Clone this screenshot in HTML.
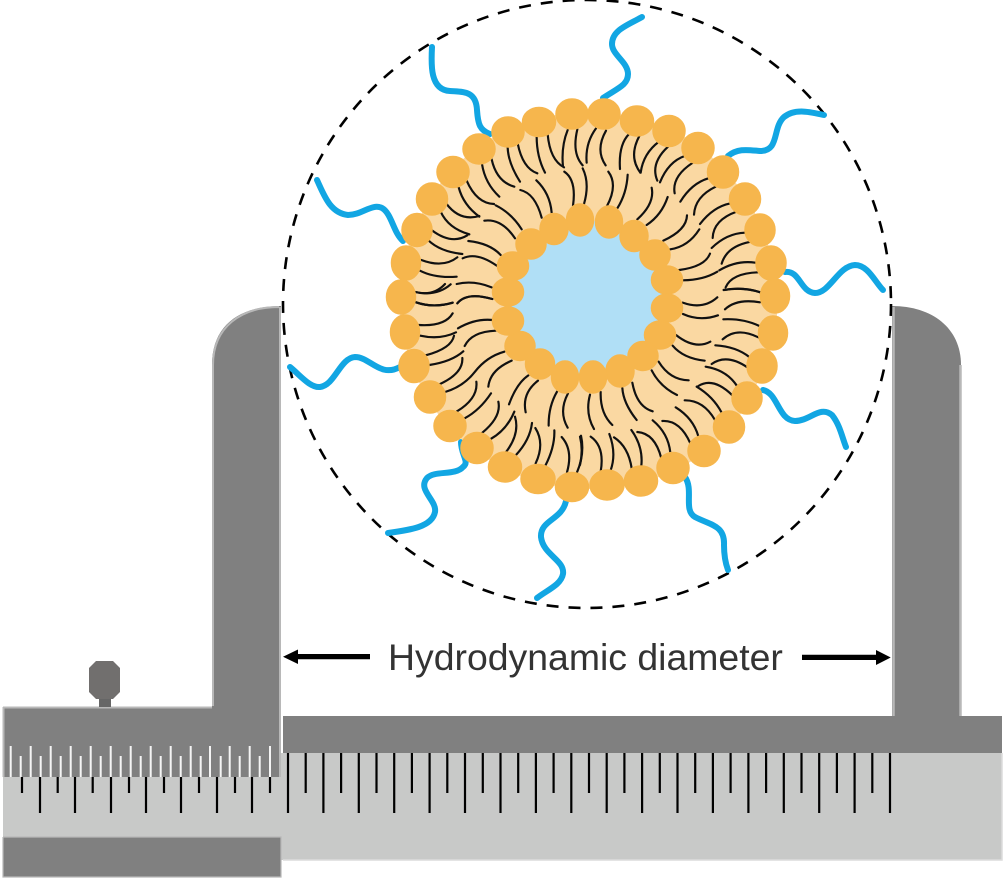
<!DOCTYPE html>
<html><head><meta charset="utf-8"><style>html,body{margin:0;padding:0;background:#fff}svg{display:block}</style></head><body>
<svg xmlns="http://www.w3.org/2000/svg" width="1005" height="880" viewBox="0 0 1005 880">
<rect x="3" y="753" width="999" height="107" fill="#c8c9c8"/>
<path d="M1002 753V860H283" fill="none" stroke="#dcdcdc" stroke-width="1.5"/>
<path d="M283 716H1002V753H283Z" fill="#808080"/>
<path d="M892 716V306C932 306 961 328 961 365V716Z" fill="#808080"/>
<path d="M893.500 716V307M960.500 716V365" stroke="#b8b8b8" stroke-width="2.500" fill="none"/>
<path d="M3 707H212V365C212 325 240 306 281 306V777H3Z" fill="#808080"/>
<path d="M213 706V365C213 327 241 307 279 307M280 307V777M3.500 707V777M3 707.500H212" stroke="#b8b8b8" stroke-width="2" fill="none"/>
<rect x="3" y="837" width="278" height="40" fill="#808080"/>
<path d="M3 837V877H281V837H3" stroke="#b8b8b8" stroke-width="1.200" fill="none"/>
<path d="M96 661H113L120 668V692L113 699H96L89 692V668Z" fill="#716f6e"/>
<rect x="99" y="699" width="12" height="8" fill="#666"/>
<path stroke="#f4f4f4" stroke-width="2" d="M10.700 746V777M30.700 746V777M50.700 746V777M70.700 746V777M90.700 746V777M110.700 746V777M130.700 746V777M150.700 746V777M170.700 746V777M190.700 746V777M210 746V777M229.700 746V777M249.700 746V777M270 746V777M20.700 756V777M40.700 756V777M60.700 756V777M80.700 756V777M100.700 756V777M120.700 756V777M140.700 756V777M160.700 756V777M180.700 756V777M200.700 756V777M220.700 756V777M239.700 756V777M259.700 756V777"/>
<path stroke="#000" stroke-width="2.200" d="M22 777V793M57.700 777V793M92.700 777V793M129 777V793M164 777V793M199 777V793M235 777V793M270 777V793M40 777V813M75 777V813M111 777V813M146 777V813M181 777V813M217 777V813M252 777V813M288 753V813M323.400 753V813M358.800 753V813M394.200 753V813M429.600 753V813M465 753V813M500.500 753V813M535.900 753V813M571.300 753V813M606.700 753V813M642.100 753V813M677.500 753V813M712.900 753V813M748.400 753V813M783.800 753V813M819.200 753V813M854.600 753V813M890 753V813M305.700 753V793M341.100 753V793M376.500 753V793M411.900 753V793M447.300 753V793M482.800 753V793M518.200 753V793M553.600 753V793M589 753V793M624.400 753V793M659.800 753V793M695.200 753V793M730.600 753V793M766.100 753V793M801.500 753V793M836.900 753V793M872.300 753V793"/>
<circle cx="587" cy="304" r="304" fill="none" stroke="#000" stroke-width="2.600" stroke-dasharray="12 10"/>
<path fill="none" stroke="#12a6e3" stroke-width="6" stroke-linecap="round" d="M603 98C618 88 628 85 628 74C628 62 612 55 612 44C612 30 628 25 642 17
M432 47C431 65 430 90 450 91C462 92 476 90 477 110C478 125 480 130 490 134
M728 156C738 148 748 150 760 151C780 151 772 128 784 117C795 108 810 112 824 115
M785 272C800 270 800 292 815 293C830 293 838 266 855 265C868 265 875 282 883 290
M317 180C324 195 330 213 348 215C362 215 372 203 382 208C392 214 393 232 403 241
M290 367C300 375 310 388 320 387C335 385 340 358 355 357C370 357 380 378 400 367
M763 390C778 393 778 420 795 421C810 421 820 405 832 415C840 425 842 437 846 447
M685 477C694 490 683 510 695 517C710 525 725 525 724 545C724 555 725 562 728 570
M566 501C562 520 540 520 541 537C543 555 565 560 563 574C561 585 547 590 537 598
M461 442C461 455 470 462 463 467C455 476 435 470 427 478C417 490 437 500 435 512C432 527 410 530 388 533"/>
<polygon fill="#fad8a2" stroke="#fad8a2" stroke-width="6" stroke-linejoin="round" points="572,114 604,114 637,121 669,131 698,148 723,172 745,199 760,230 771,263 775,296 773,333 762,366 747,398 729,427 704,451 673,468 641,481 607,485 572,487 538,479 505,467 477,448 450,426 430,397 414,366 405,332 401,297 406,263 417,230 432,199 453,172 479,149 508,132 539,122"/>
<polygon fill="#b0dff6" points="580,220 609,222 634,236 655,255 667,280 667,307 660,335 643,356 620,371 593,377 565,377 540,364 520,346 508,321 508,292 513,266 531,244 554,229"/>
<g fill="none" stroke="#111" stroke-width="6.500" stroke-linecap="round">
<g transform="translate(380,90) scale(.33333)"><path d="M383 173Q385 220 420 275M413 160Q428 235 472 250M470 140Q470 200 495 248M503 133Q510 210 552 232M563 120Q543 170 549 230M592 118Q575 190 608 226M335 208Q350 275 403 290M306 222Q315 280 358 320M260 272Q290 340 342 342M236 292Q250 345 298 380M199 341Q240 395 298 378M182 365Q205 415 268 433M156 421Q215 465 262 436M144 450Q180 485 247 492M124 510Q190 535 232 502M120 542Q165 565 230 560M106 606Q170 620 212 583M108 637Q160 655 218 638M230 582Q280 570 335 592M232 640Q260 605 337 627M248 505Q290 485 350 527M265 453Q330 460 362 495M313 392Q365 385 405 445M347 346Q395 370 425 418M421 300Q465 310 485 383M469 271Q510 310 515 368M553 245Q590 270 579 347"/></g>
<g transform="translate(580,90) scale(.33333)"><path d="M48 115Q15 160 20 218M78 122Q45 180 77 226M147 132Q115 165 120 237M178 138Q145 200 181 248M237 155Q190 190 182 248M264 170Q210 220 232 272M314 198Q265 215 240 277M337 219Q275 260 284 310M385 265Q335 280 301 335M407 290Q345 320 342 374M452 340Q400 350 360 402M470 365Q400 390 398 444M495 428Q440 430 395 474M509 456Q440 470 425 521M526 518Q470 510 418 541M534 547Q455 550 437 592M541 607Q490 590 431 600M412 545Q370 570 309 571M390 491Q375 530 298 540M358 418Q325 470 271 478M321 376Q320 420 250 452M263 321Q245 375 200 405M215 293Q225 340 172 388M143 254Q140 310 112 355M85 245Q115 285 80 350M8 235Q30 280 12 342"/></g>
<g transform="translate(380,290) scale(.33333)"><path d="M106 6Q160 20 195 -18M108 37Q160 55 218 38M232 40Q260 5 337 27M218 70Q195 110 116 105M228 127Q180 150 121 137M222 137Q215 175 137 196M250 184Q215 215 148 225M247 204Q250 250 178 283M373 185Q320 200 285 245Q250 290 195 306M395 212Q330 240 325 290M338 90Q285 85 234 115M347 122Q275 125 254 168M289 275Q295 325 231 364M333 310Q300 360 254 385M355 335Q365 380 307 428M403 365Q380 420 332 447M445 256Q410 280 387 343M474 272Q425 310 437 367M531 305Q505 350 506 407M564 310Q535 365 563 413M405 380Q420 430 379 485M456 399Q450 450 407 496M466 414Q495 460 467 520M523 421Q525 470 496 527M545 441Q580 480 561 547M603 437Q615 490 591 547"/></g>
<g transform="translate(580,290) scale(.33333)"><path d="M308 38Q370 60 412 22M309 72Q360 95 414 76M288 135Q345 180 391 155M278 167Q310 205 374 212M236 215Q270 270 326 271M215 241Q240 290 291 315M430 88Q490 85 538 108M428 148Q470 110 535 142M406 166Q470 170 509 202M395 222Q440 190 502 232M377 230Q440 240 471 288M355 288Q400 260 457 316M350 290Q400 320 425 368M314 331Q370 330 405 390M287 352Q340 385 355 439M247 393Q300 390 331 460M218 391Q265 430 271 488M172 426Q225 430 244 505M154 420Q190 470 184 527M102 442Q145 470 155 535M88 432Q110 490 92 541M32 440Q75 470 62 545M0 440Q10 480 0 525M157 278Q170 350 218 364M127 294Q130 340 170 390M62 306Q60 370 97 405M30 314Q15 370 42 417M541 7Q490 -10 431 0M540 37Q470 25 435 58"/></g>
</g>
<g fill="#f6b64d" stroke="#f6b64d" stroke-width="1.500">
<ellipse cx="572" cy="114" rx="16" ry="15"/><ellipse cx="604" cy="114" rx="16" ry="15"/><ellipse cx="637" cy="121" rx="16.500" ry="15"/><ellipse cx="669" cy="131" rx="16" ry="15.500"/><ellipse cx="698" cy="148" rx="16" ry="15.500"/><ellipse cx="723" cy="172" rx="15.500" ry="16"/><ellipse cx="745" cy="199" rx="15.500" ry="16"/><ellipse cx="760" cy="230" rx="15" ry="16"/><ellipse cx="771" cy="263" rx="15" ry="17"/><ellipse cx="775" cy="296" rx="14.500" ry="17"/><ellipse cx="773" cy="333" rx="14.500" ry="17"/><ellipse cx="762" cy="366" rx="15" ry="17"/><ellipse cx="747" cy="398" rx="15" ry="16"/><ellipse cx="729" cy="427" rx="15.500" ry="16"/><ellipse cx="704" cy="451" rx="16" ry="15.500"/><ellipse cx="673" cy="468" rx="16" ry="15.500"/><ellipse cx="641" cy="481" rx="16.500" ry="15"/><ellipse cx="607" cy="485" rx="17" ry="15"/><ellipse cx="572" cy="487" rx="16.500" ry="14.500"/><ellipse cx="538" cy="479" rx="17" ry="14.500"/><ellipse cx="505" cy="467" rx="16.500" ry="15"/><ellipse cx="477" cy="448" rx="16" ry="15.500"/><ellipse cx="450" cy="426" rx="16" ry="15.500"/><ellipse cx="430" cy="397" rx="15.500" ry="16"/><ellipse cx="414" cy="366" rx="15" ry="16.500"/><ellipse cx="405" cy="332" rx="14.500" ry="17"/><ellipse cx="401" cy="297" rx="14.500" ry="17"/><ellipse cx="406" cy="263" rx="14.500" ry="17"/><ellipse cx="417" cy="230" rx="15" ry="16.500"/><ellipse cx="432" cy="199" rx="15.500" ry="16"/><ellipse cx="453" cy="172" rx="16" ry="15.500"/><ellipse cx="479" cy="149" rx="16" ry="15"/><ellipse cx="508" cy="132" rx="16" ry="15"/><ellipse cx="539" cy="122" rx="16.500" ry="14.500"/>
<ellipse cx="580" cy="220" rx="13.500" ry="16"/><ellipse cx="609" cy="222" rx="13.500" ry="16"/><ellipse cx="634" cy="236" rx="14" ry="15.500"/><ellipse cx="655" cy="255" rx="15" ry="15"/><ellipse cx="667" cy="280" rx="15.500" ry="14"/><ellipse cx="667" cy="308" rx="15.500" ry="14"/><ellipse cx="660" cy="335" rx="15.500" ry="14"/><ellipse cx="643" cy="356" rx="15" ry="14.500"/><ellipse cx="620" cy="371" rx="14" ry="16"/><ellipse cx="593" cy="377" rx="13.500" ry="16"/><ellipse cx="565" cy="377" rx="13.500" ry="16"/><ellipse cx="540" cy="364" rx="14.500" ry="15"/><ellipse cx="520" cy="346" rx="15" ry="14.500"/><ellipse cx="508" cy="321" rx="15.500" ry="14"/><ellipse cx="508" cy="292" rx="15.500" ry="14"/><ellipse cx="513" cy="266" rx="15.500" ry="14"/><ellipse cx="531" cy="244" rx="15" ry="15"/><ellipse cx="554" cy="229" rx="14" ry="15.500"/>
</g>
<path d="M370 654H298V649.500L283 656.700L298 664V659.300H370Z" fill="#000"/>
<path d="M802 654.700H876V650L890.700 657.500L876 665V660H802Z" fill="#000"/>
<text x="388" y="670" font-family="'Liberation Sans',sans-serif" font-size="37.400" fill="#333">Hydrodynamic diameter</text>
</svg>
</body></html>
